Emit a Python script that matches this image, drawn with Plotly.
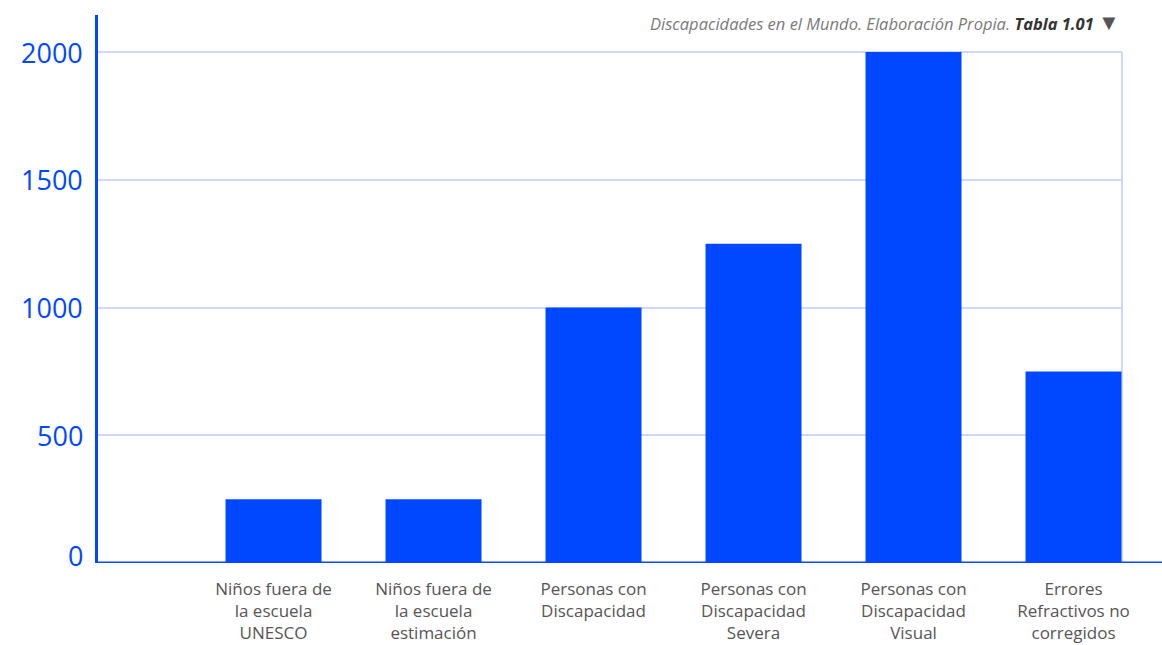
import plotly.graph_objects as go

# Data
categories = [
    "Niños fuera de<br>la escuela<br>UNESCO",
    "Niños fuera de<br>la escuela<br>estimación",
    "Personas con<br>Discapacidad",
    "Personas con<br>Discapacidad<br>Severa",
    "Personas con<br>Discapacidad<br>Visual",
    "Errores<br>Refractivos no<br>corregidos",
]
values = [250, 250, 1000, 1250, 2000, 750]
y_ticks = [0, 500, 1000, 1500, 2000]

BLUE = "#0048FF"
GRID = "#CCD8FF"
FONT = "Open Sans"

positions = list(range(len(categories)))

fig = go.Figure()
fig.add_trace(go.Bar(
    x=positions,
    y=values,
    width=0.6,
    marker=dict(color=BLUE, line=dict(width=0)),
    hoverinfo="skip",
))

W, H = 1162, 645
L, R, T, B = 98, 40, 15, 82
PLOT_H = H - T - B

fig.update_layout(
    width=W, height=H,
    margin=dict(l=L, r=R, t=T, b=B, pad=0, autoexpand=False),
    paper_bgcolor="white",
    plot_bgcolor="white",
    showlegend=False,
    font=dict(family=FONT),
    xaxis=dict(
        range=[-1.097, 5.303],
        tickvals=positions,
        ticktext=categories,
        tickfont=dict(size=17, color="#555555", family=FONT),
        showgrid=False,
        zeroline=False,
        showline=False,
        ticks="",
        ticklabelstandoff=14,
        automargin=False,
        fixedrange=True,
    ),
    yaxis=dict(
        range=[0, 2145],
        tickvals=y_ticks,
        showticklabels=False,
        showgrid=True,
        gridcolor=GRID,
        gridwidth=2,
        zeroline=False,
        showline=True,
        linecolor=BLUE,
        linewidth=3,
        ticks="",
        automargin=False,
        fixedrange=True,
    ),
)

# Value labels on the y axis; the zero label sits slightly above the baseline
for v in y_ticks:
    fig.add_annotation(
        xref="paper", yref="y", x=0, y=v,
        xanchor="right", yanchor="middle",
        xshift=-13, yshift=8 if v == 0 else 0,
        text=str(v), showarrow=False,
        font=dict(size=27, color=BLUE, family=FONT, weight=500),
    )

# Right frame edge of the plotting area, from baseline up to the top gridline
fig.add_shape(type="line", xref="paper", yref="y",
              x0=1, x1=1, y0=0, y1=2000,
              line=dict(color=GRID, width=2), layer="below")

# Baseline running to the right edge of the page
fig.add_shape(type="line", xref="paper", yref="y",
              x0=0, x1=(W - L) / (W - L - R), y0=0, y1=0,
              line=dict(color=BLUE, width=3), layer="above")

fig.add_annotation(
    xref="paper", yref="paper",
    x=1, y=(H - B - 21) / PLOT_H,
    xanchor="right", yanchor="middle",
    showarrow=False,
    text=("<i>Discapacidades en el Mundo. Elaboración Propia.</i> "
          "<b><i><span style='color:#333333'>Tabla 1.01</span></i></b> "
          "<span style='color:#555555;font-size:22px'>▼</span>"),
    font=dict(size=16.5, color="#7a7a7a", family=FONT),
)

fig.write_html("out.html")
